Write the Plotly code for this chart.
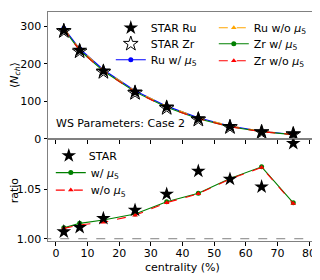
import plotly.graph_objects as go
from plotly.subplots import make_subplots

centrality = [2.5, 7.5, 15, 25, 35, 45, 55, 65, 75]

star_ru = [289, 236, 181, 125, 85, 54, 33, 18.5, 13]
star_zr = [287, 233, 178, 122, 82, 51, 31, 17.6, 12]
ru_w = [295, 240, 184, 128, 87, 56, 34, 20, 11.5]
ru_wo = [295, 239, 183.5, 127.5, 87, 56, 34, 20, 11.5]
zr_w = [292, 236, 180.5, 125, 84, 53.5, 32, 18.7, 11.1]
zr_wo = [292, 235.5, 180.5, 124.5, 84, 53.5, 32, 18.7, 11.1]

ratio_star = [1.0071, 1.0115, 1.0206, 1.029, 1.0452, 1.0685, 1.0604, 1.0526, 1.0966]
ratio_w = [1.011, 1.0156, 1.019, 1.025, 1.0375, 1.046, 1.0611, 1.0729, 1.0364]
ratio_wo = [1.0105, 1.0139, 1.0166, 1.0237, 1.0365, 1.0455, 1.0605, 1.0722, 1.0356]

x_ticks = [0, 10, 20, 30, 40, 50, 60, 70, 80]
top_ticks = [0, 100, 200, 300]
ratio_ticks = [1.00, 1.05]

mu5 = "<i>μ</i><sub>5</sub>"
FONT = "DejaVu Sans"
FS = 11

# The page body has an 8px margin; lay the figure out in window pixels.
OFF = 8
W, H = 312, 272
PL, PR, PT, PB = 47.7, 316.7, 11.7, 241.0   # plot area in window pixels
L = PL - OFF
R = W - (PR - OFF)
T = PT - OFF
B = H - (PB - OFF)
pw, ph = W - L - R, H - T - B


def px(xw):
    return (xw - OFF - L) / pw


def py(yw):
    return (H - B - (yw - OFF)) / ph


top_h = 139.0 - PT
bot_h = PB - 139.0

fig = make_subplots(rows=2, cols=1, shared_xaxes=True, vertical_spacing=0,
                    row_heights=[top_h, bot_h])


def model(x, y, name, color, dash, symbol, legend):
    return go.Scatter(x=x, y=y, name=name, mode="lines+markers",
                      line=dict(color=color, width=1.1, dash=dash),
                      marker=dict(color=color, symbol=symbol, size=5),
                      legend=legend)


# top panel
fig.add_trace(model(centrality, ru_w, "Ru w/ " + mu5, "blue", "solid", "circle", "legend3"), row=1, col=1)
fig.add_trace(model(centrality, ru_wo, "Ru w/o " + mu5, "orange", "dash", "triangle-up", "legend4"), row=1, col=1)
fig.add_trace(model(centrality, zr_w, "Zr w/ " + mu5, "green", "solid", "circle", "legend5"), row=1, col=1)
fig.add_trace(model(centrality, zr_wo, "Zr w/o " + mu5, "red", "dash", "triangle-up", "legend6"), row=1, col=1)
fig.add_trace(go.Scatter(x=centrality, y=star_zr, name="STAR Zr", mode="markers",
                         marker=dict(symbol="star-open", color="black", size=11, line=dict(width=1)),
                         legend="legend2"), row=1, col=1)
fig.add_trace(go.Scatter(x=centrality, y=star_ru, name="STAR Ru", mode="markers",
                         marker=dict(symbol="star", color="black", size=11),
                         legend="legend"), row=1, col=1)

# bottom panel
fig.add_trace(go.Scatter(x=[-10, 100], y=[1.0, 1.0], mode="lines", showlegend=False,
                         line=dict(color="gray", width=1, dash="dash"), hoverinfo="skip"), row=2, col=1)
fig.add_trace(model(centrality, ratio_w, "w/ " + mu5, "green", "solid", "circle", "legend8"), row=2, col=1)
fig.add_trace(model(centrality, ratio_wo, "w/o " + mu5, "red", "dash", "triangle-up", "legend9"), row=2, col=1)
fig.add_trace(go.Scatter(x=centrality, y=ratio_star, name="STAR", mode="markers",
                         marker=dict(symbol="star", color="black", size=11),
                         legend="legend7"), row=2, col=1)

axis_common = dict(showline=True, linecolor="#808080", linewidth=1, mirror=True,
                   ticks="outside", ticklen=3.5, tickcolor="black", tickwidth=1,
                   showgrid=False, zeroline=False,
                   tickfont=dict(family=FONT, size=FS, color="black"))

fig.update_xaxes(range=[-2.5, 82.5], tickvals=x_ticks, ticklabelstandoff=-2, **axis_common)
fig.update_xaxes(showticklabels=False, row=1, col=1)
fig.update_yaxes(range=[-1, 338], tickvals=top_ticks, row=1, col=1, **axis_common)
fig.update_yaxes(range=[0.9977, 1.1009], tickvals=ratio_ticks, tickformat=".2f",
                 row=2, col=1, **axis_common)

legend_common = dict(font=dict(family=FONT, size=FS, color="black"), bgcolor="rgba(0,0,0,0)",
                     borderwidth=0, tracegroupgap=0, itemwidth=30,
                     xanchor="left", yanchor="top", xref="paper", yref="paper")

ROW_OFF = 13  # legend top to item centre, pixels


def leg(x_left, y_centre):
    return dict(x=px(x_left), y=py(y_centre - ROW_OFF), **legend_common)


def label(text, xw, yw, angle=0, xanchor="center"):
    return dict(text=text, x=px(xw), y=py(yw), xref="paper", yref="paper",
                xanchor=xanchor, yanchor="middle", textangle=angle, showarrow=False,
                font=dict(family=FONT, size=FS, color="black"))


fig.update_layout(
    width=W, height=H,
    margin=dict(l=L, r=R, t=T, b=B, autoexpand=False),
    paper_bgcolor="white", plot_bgcolor="white",
    font=dict(family=FONT, size=FS, color="black"),
    legend=leg(110.5, 26),
    legend2=leg(110.5, 42),
    legend3=leg(110.5, 58),
    legend4=leg(213.5, 26),
    legend5=leg(213.5, 42),
    legend6=leg(213.5, 59),
    legend7=leg(48.5, 154),
    legend8=leg(50.5, 171),
    legend9=leg(50.5, 188.5),
    annotations=[
        label("WS Parameters: Case 2", 53.5, 123.5, xanchor="left"),
        label("⟨<i>N</i><sub><i>ch</i></sub>⟩", 14.5, 75, angle=-90),
        label("ratio", 14, 190, angle=-90),
        label("centrality (%)", 182.5, 267.5),
    ],
)

fig.write_html("out.html")
